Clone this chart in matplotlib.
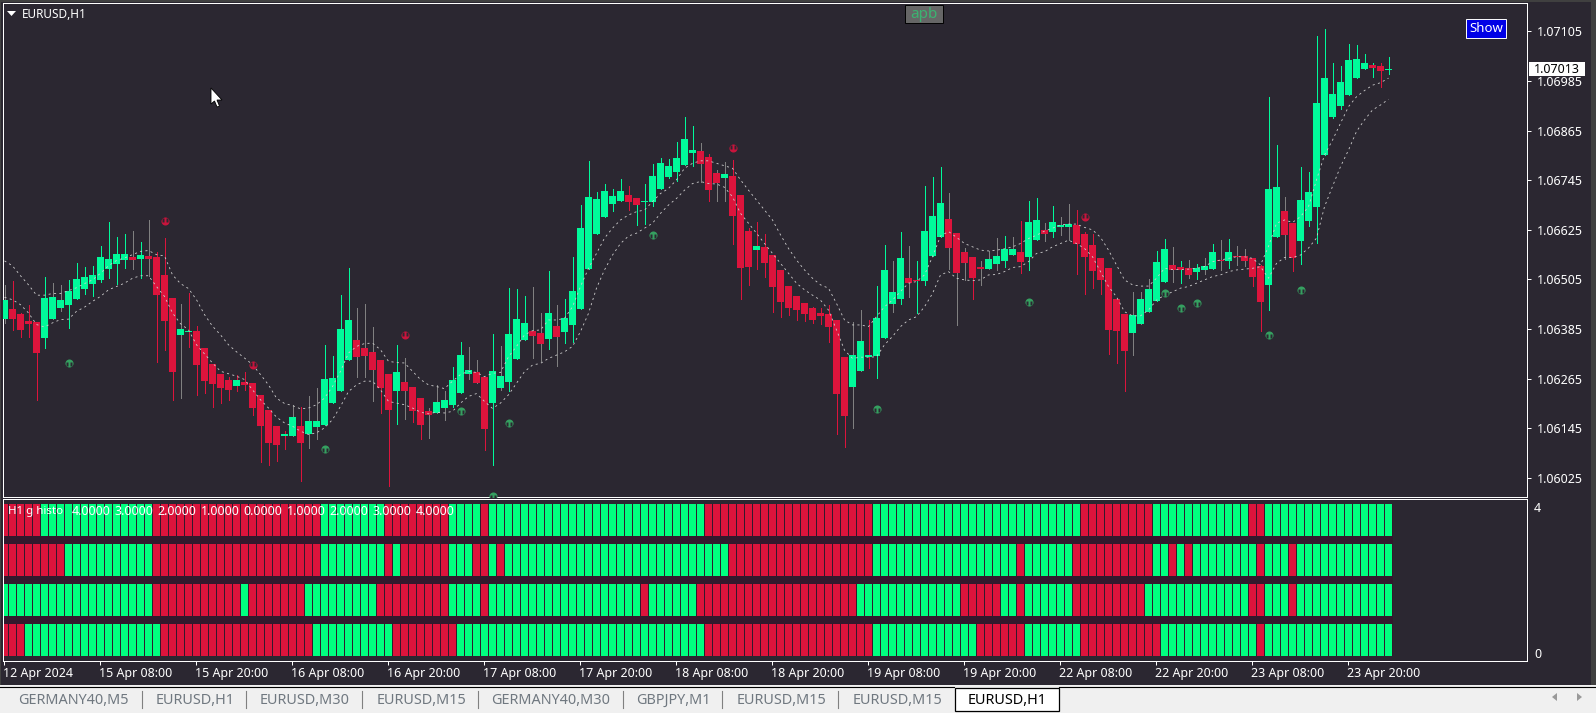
import matplotlib
matplotlib.use("Agg")
import matplotlib.pyplot as plt
from matplotlib.patches import Rectangle, Polygon
from matplotlib.path import Path
import numpy as np

W, H = 1596, 713

# prices in points (1e-5)
opens = [106410,106434,106422,106405,106403,106364,106410,106437,106444,106458,
106483,106495,106504,106531,106543,106553,106560,106555,106562,106560,
106516,106461,106371,106379,106381,106340,106301,106277,106263,106248,
106258,106255,106226,106190,106151,106127,106127,106151,106130,106147,
106154,106207,106236,106311,106359,106340,106330,106311,106277,106234,
106258,106246,106219,106188,106183,106195,106202,106231,106277,106282,
106270,106205,106243,106257,106313,106359,106380,106376,106361,106393,
106378,106395,106434,106530,106615,106656,106688,106695,106709,106702,
106693,106692,106724,106753,106765,106782,106811,106816,106801,106762,
106750,106755,106709,106622,106576,106584,106564,106528,106489,106465,
106448,106436,106424,106422,106407,106318,106245,106284,106318,106320,
106364,106446,106458,106509,106504,106501,106562,106608,106651,106617,
106571,106559,106535,106530,106542,106550,106564,106571,106559,106600,
106625,106620,106632,106632,106637,106615,106588,106557,106533,106458,
106421,106376,106397,106426,106453,106499,106540,106535,106533,106523,
106528,106530,106552,106550,106562,106562,106557,106537,106492,106608,
106671,106642,106598,106647,106680,106806,106898,106925,106951,106992,
107014,107024,107021,107011]
closes = [106456,106410,106383,106398,106328,106461,106463,106456,106478,106507,
106512,106516,106560,106555,106567,106567,106553,106565,106555,106468,
106405,106282,106386,106381,106299,106260,106253,106243,106238,106263,
106250,106195,106151,106110,106105,106132,106173,106110,106163,106163,
106265,106267,106386,106408,106318,106321,106287,106243,106190,106282,
106234,106188,106154,106178,106209,106214,106263,106323,106287,106255,
106144,106284,106272,106373,106409,106400,106368,106349,106424,106366,
106412,106477,106629,106704,106700,106719,106707,106719,106692,106685,
106695,106755,106787,106779,106799,106845,106818,106784,106721,106738,
106760,106659,106533,106535,106586,106545,106487,106451,106436,106431,
106422,106407,106417,106390,106228,106175,106322,106356,106322,106412,
106528,106475,106557,106496,106501,106622,106658,106690,106581,106521,
106545,106508,106530,106554,106562,106579,106579,106547,106644,106649,
106615,106644,106637,106639,106591,106559,106525,106504,106383,106380,
106332,106419,106458,106482,106547,106579,106528,106528,106516,106533,
106538,106571,106550,106571,106559,106550,106511,106451,106724,106729,
106613,106557,106697,106717,106932,106992,106954,106983,107036,107038,
107029,107017,107009,107013]
highs = [106492,106502,106425,106444,106403,106511,106497,106492,106504,106545,
106536,106538,106587,106645,106608,106616,106623,106596,106649,106572,
106606,106461,106446,106473,106393,106340,106301,106277,106270,106275,
106282,106255,106226,106190,106151,106139,106202,106197,106224,106243,
106347,106321,106468,106533,106437,106446,106391,106311,106277,106347,
106316,106246,106219,106195,106250,106236,106294,106354,106342,106309,
106270,106374,106344,106484,106482,106465,106487,106424,106526,106443,
106458,106559,106685,106792,106717,106736,106724,106748,106731,106702,
106736,106784,106799,106796,106837,106898,106876,106835,106808,106770,
106789,106794,106709,106629,106644,106615,106564,106528,106489,106465,
106448,106438,106436,106443,106407,106318,106402,106431,106407,106489,
106588,106550,106620,106586,106550,106731,106753,106777,106714,106617,
106581,106559,106550,106574,106605,106610,106608,106646,106695,106702,
106641,106683,106656,106687,106673,106620,106615,106557,106533,106458,
106421,106475,106475,106506,106574,106603,106583,106550,106552,106542,
106557,106591,106600,106603,106586,106579,106557,106540,106946,106830,
106705,106642,106777,106765,107094,107111,107029,107021,107075,107072,
107050,107029,107029,107043]
lows = [106400,106383,106367,106367,106214,106340,106410,106429,106388,106458,
106471,106466,106500,106509,106495,106533,106531,106509,106514,106306,
106335,106214,106219,106342,106226,106231,106197,106205,106214,106234,
106238,106176,106064,106057,106067,106096,106127,106018,106098,106120,
106154,106207,106236,106311,106270,106270,106212,106183,106006,106156,
106168,106161,106120,106122,106183,106166,106197,106231,106265,106255,
106093,106057,106238,106235,106313,106359,106315,106308,106337,106296,
106351,106354,106434,106530,106615,106656,106671,106695,106673,106637,
106639,106683,106724,106750,106743,106782,106779,106741,106695,106695,
106695,106591,106458,106492,106530,106511,106426,106414,106419,106407,
106405,106400,106397,106354,106131,106100,106146,106284,106291,106267,
106364,106426,106446,106463,106424,106492,106562,106608,106530,106395,
106504,106458,106492,106530,106528,106535,106564,106521,106528,106600,
106598,106608,106612,106600,106518,106470,106484,106470,106325,106303,
106235,106322,106397,106426,106453,106499,106499,106496,106508,106506,
106518,106530,106528,106533,106540,106538,106489,106380,106431,106608,
106555,106526,106543,106635,106593,106806,106896,106917,106951,106992,
107014,106995,106971,107002]

# the two dotted averages
upper_ma = [106550,106538,106514,106492,106467,106467,106471,106471,106478,106485,
106495,106504,106520,106538,106551,106557,106565,106573,106575,106565,
106562,106516,106495,106483,106456,106420,106392,106371,106347,106330,
106315,106299,106275,106250,106218,106205,106200,106192,106194,106202,
106218,106246,106283,106327,106343,106350,106351,106335,106307,106304,
106303,106283,106263,106250,106246,106241,106259,106275,106283,106280,
106270,106278,106280,106318,106343,106371,106381,106383,106407,106407,
106411,106439,106488,106532,106568,106605,106629,106649,106661,106669,
106673,106693,106713,106725,106746,106774,106786,106792,106792,106786,
106780,106774,106746,106721,106697,106673,106649,106613,106580,106552,
106528,106508,106492,106484,106447,106407,106395,106395,106391,106415,
106439,106455,106476,106496,106500,106516,106560,106610,106621,106607,
106592,106584,106576,106574,106576,106579,106584,106592,106604,106612,
106622,106629,106637,106639,106639,106631,106625,106607,106576,106540,
106504,106492,106489,106489,106508,106532,106529,106529,106530,106532,
106536,106548,106552,106556,106560,106560,106556,106540,106585,106641,
106649,106643,106657,106681,106746,106806,106842,106883,106923,106947,
106962,106975,106981,106992]
lower_ma = [106462,106456,106444,106424,106396,106390,106400,106408,106409,106428,
106438,106452,106464,106480,106488,106496,106508,106514,106514,106488,
106464,106424,106398,106383,106347,106325,106303,106283,106277,106271,
106263,106238,106214,106194,106172,106158,106150,106138,106130,106134,
106146,106166,106198,106234,106250,106259,106259,106238,106210,106206,
106202,106194,106184,106180,106184,106182,106186,106206,106222,106229,
106210,106193,106206,106226,106254,106282,106298,106302,106314,106322,
106330,106343,106379,106423,106484,106528,106564,106592,106610,106617,
106629,106641,106665,106685,106701,106721,106737,106742,106737,106736,
106728,106705,106665,106641,106617,106592,106568,106544,106520,106496,
106480,106467,106455,106431,106383,106334,106314,106317,106317,106318,
106347,106367,106391,106407,106415,106439,106471,106516,106524,106508,
106504,106502,106504,106516,106517,106524,106534,106536,106548,106568,
106572,106584,106592,106600,106592,106580,106560,106524,106488,106463,
106427,106417,106417,106431,106455,106467,106475,106484,106488,106496,
106504,106512,106516,106524,106528,106530,106532,106536,106508,106544,
106558,106558,106564,106581,106605,106681,106730,106778,106818,106863,
106891,106915,106927,106941]

# signal markers: bar index and price
buy_bars = [8, 40, 57, 61, 63, 81, 109, 128, 145, 147, 149, 158, 162]
buy_prices = [106302, 106094, 106188, 105982, 106159, 106613, 106192, 106451, 106473, 106437, 106449, 106371, 106480]
sell_bars = [20, 31, 50, 91, 135]
sell_prices = [106647, 106297, 106370, 106824, 106657]

# wicks that do not take the body colour
grey_wicks = [0,6,7,16,18,22,36,38,39,44,45,46,50,53,54,55,58,59,62,66,67,69,87,89,90,
              106,107,111,113,118,119,120,122,123,124,126,130,132,133,141,142,143,
              146,148,150,152,154,155,160]
red_wicks = [23, 29, 35, 94, 108]
green_wicks = [79, 114, 147, 171]

# histogram rows, top to bottom: bar ranges that are green, the rest is red
row1_green = [(5,18),(40,47),(56,59),(61,87),(109,134),(144,155),(158,173)]
row2_green = [(8,18),(40,47),(49,49),(56,58),(61,61),(63,90),(109,126),(128,133),
              (144,145),(147,147),(149,156),(158,160),(162,173)]
row3_green = [(0,18),(30,30),(38,46),(56,59),(61,79),(81,86),(107,119),(125,126),
              (128,133),(143,155),(158,160),(162,173)]
row4_green = [(3,19),(39,48),(57,87),(109,121),(128,134),(145,156),(158,173)]

price_ticks = [1.07105, 1.06985, 1.06865, 1.06745, 1.06625, 1.06505, 1.06385, 1.06265, 1.06145, 1.06025]
last_price = 1.07013
time_labels = ["12 Apr 2024", "15 Apr 08:00", "15 Apr 20:00", "16 Apr 08:00", "16 Apr 20:00",
               "17 Apr 08:00", "17 Apr 20:00", "18 Apr 08:00", "18 Apr 20:00", "19 Apr 08:00",
               "19 Apr 20:00", "22 Apr 08:00", "22 Apr 20:00", "23 Apr 08:00", "23 Apr 20:00"]
histo_levels = ["4.0000", "3.0000", "2.0000", "1.0000", "0.0000", "1.0000", "2.0000", "3.0000", "4.0000"]
tabs = [("GERMANY40,M5", 18), ("EURUSD,H1", 155.5), ("EURUSD,M30", 260), ("EURUSD,M15", 377),
        ("GERMANY40,M30", 491), ("GBPJPY,M1", 636), ("EURUSD,M15", 737), ("EURUSD,M15", 853)]
tab_seps = [142, 246, 362, 478, 623, 722, 838]

BG = "#2b2731"
GREEN = "#00fa9a"
RED = "#dc143c"
GREY = "#808080"
HIST_GREEN = "#00ff7f"
BAND = "#33192d"
BUY = "#35a060"
SELL = "#c8143c"
plt.rcParams["font.family"] = ["Noto Sans", "DejaVu Sans"]
TXT = 9

opens = np.array(opens) / 1e5
closes = np.array(closes) / 1e5
highs = np.array(highs) / 1e5
lows = np.array(lows) / 1e5
bars = np.arange(len(opens))

fig = plt.figure(figsize=(W / 100, H / 100), dpi=100, facecolor="#f0f0f0")

# window chrome, in pixels
bg = fig.add_axes([0, 0, 1, 1], zorder=-1)
bg.set_xlim(0, W); bg.set_ylim(H, 0); bg.axis("off")
bg.add_patch(Rectangle((0, 0), W, 685, color="#404040", lw=0))
bg.add_patch(Rectangle((1, 2), 1590, 683, color=BG, lw=0))


def place(x0, y0, x1, y1, **kw):
    return fig.add_axes([x0 / W, 1 - y1 / H, (x1 - x0) / W, (y1 - y0) / H], **kw)


def style(ax):
    ax.set_facecolor(BG)
    for s in ax.spines.values():
        s.set_color("white")
        s.set_linewidth(0.72)


# main chart
ax = place(2.5, 2.5, 1526.5, 496.5)
style(ax)
ax.set_xlim(-0.25, 190.25)
ax.set_ylim(1.05980, 1.07175)

wick_colours = [GREEN if c >= o else RED for o, c in zip(opens, closes)]
for i in grey_wicks:
    wick_colours[i] = GREY
for i in red_wicks:
    wick_colours[i] = RED
for i in green_wicks:
    wick_colours[i] = GREEN
ax.vlines(bars, lows, highs, colors=wick_colours, lw=0.72, antialiased=False, zorder=2)

up = closes >= opens
tops = np.maximum(opens, closes)
bots = np.minimum(opens, closes)
ax.bar(bars[up], (tops - bots)[up], bottom=bots[up], width=0.875, color=GREEN, lw=0,
       antialiased=False, zorder=3)
ax.bar(bars[~up], (tops - bots)[~up], bottom=bots[~up], width=0.875, color=RED, lw=0,
       antialiased=False, zorder=3)

ax.plot(bars, np.array(upper_ma) / 1e5, color="#cfcfcf", lw=0.6, ls=(0, (2.5, 4)), zorder=4)
ax.plot(bars, np.array(lower_ma) / 1e5, color="#cfcfcf", lw=0.6, ls=(0, (2.5, 4)), zorder=4)

# arrow signs: a filled disc with two dark slots beside the stem
slots_up = Path([(-2.6, -2.6), (-0.6, -2.6), (-0.6, 0.6), (-2.6, 0.6), (-2.6, -2.6),
                 (0.6, -2.6), (2.6, -2.6), (2.6, 0.6), (0.6, 0.6), (0.6, -2.6)],
                [1, 2, 2, 2, 79, 1, 2, 2, 2, 79])
slots_down = Path(slots_up.vertices * [1, -1], slots_up.codes)
buy_y = np.array(buy_prices) / 1e5
sell_y = np.array(sell_prices) / 1e5
ax.plot(buy_bars, buy_y, ls="", marker="o", ms=5.8, mfc=BUY, mec="none", zorder=5)
ax.plot(buy_bars, buy_y, ls="", marker=slots_up, ms=3.8, mfc=BG, mec="none", zorder=6)
ax.plot(sell_bars, sell_y, ls="", marker="o", ms=5.8, mfc=SELL, mec="none", zorder=5)
ax.plot(sell_bars, sell_y, ls="", marker=slots_down, ms=3.8, mfc=BG, mec="none", zorder=6)

ax.set_xticks([])
ax.yaxis.tick_right()
ax.set_yticks(price_ticks)
ax.set_yticklabels([f"{p:.5f}" for p in price_ticks], color="white", fontsize=TXT)
ax.tick_params(axis="y", length=3, width=0.72, color="white", pad=4.2)

# histogram window
sub = place(2.5, 498.5, 1526.5, 660.5)
style(sub)
sub.set_xlim(-0.25, 190.25)
sub.set_ylim(-0.1125, 3.9375)
sub.bar(bars, 3.8, width=1.0, color=BAND, lw=0, antialiased=False, zorder=1)
rows = [row4_green, row3_green, row2_green, row1_green]
for level, runs in enumerate(rows):
    colours = [RED] * len(bars)
    for a, b in runs:
        for i in range(a, b + 1):
            colours[i] = HIST_GREEN
    sub.bar(bars, 0.8, bottom=level, width=0.875, color=colours, lw=0, antialiased=False, zorder=2)
sub.set_yticks([])
tick_bars = bars[::12][:len(time_labels)]
sub.set_xticks(tick_bars - 0.1)
sub.set_xticklabels([])
sub.tick_params(axis="x", length=3, width=0.72, color="white")

# everything written on top, in pixels
fg = fig.add_axes([0, 0, 1, 1], zorder=20)
fg.set_xlim(0, W); fg.set_ylim(H, 0); fg.axis("off"); fg.patch.set_alpha(0)

fg.add_patch(Rectangle((1529, 62), 56, 14, fc="white", ec="none"))
fg.text(1534, 69.3, f"{last_price:.5f}", color="black", fontsize=TXT, va="center")

for k, lab in enumerate(time_labels):
    fg.text(2.7 + 96 * k, 673.5, lab, color="white", fontsize=TXT, va="center", ha="left")

fg.text(1534, 509, "4", color="white", fontsize=TXT, va="center")
fg.text(1534, 654, "0", color="white", fontsize=TXT, va="center")

fg.text(8, 511.5, "H1 g histo", color="white", fontsize=8.3, va="center")
for k, lab in enumerate(histo_levels):
    fg.text(71.8 + 43 * k, 511.5, lab, color="white", fontsize=TXT, va="center")

fg.add_patch(Polygon([(7, 11), (16, 11), (11.5, 16)], color="white", lw=0))
fg.text(22, 14.2, "EURUSD,H1", color="white", fontsize=8.5, va="center")

# mouse pointer
fg.add_patch(Polygon([(211, 88), (211, 104), (214.5, 101), (217, 107), (219.5, 106), (217, 100), (222, 100)],
                     fc="white", ec="black", lw=0.6))

fg.add_patch(Rectangle((905, 5), 38, 18, fc="#666666", ec="black", lw=0.7))
fg.text(924, 14, "apb", color="#3cb371", fontsize=11, va="center", ha="center")
fg.add_patch(Rectangle((1466, 19), 40, 19, fc="#0000e6", ec="white", lw=0.7))
fg.text(1486, 29, "Show", color="white", fontsize=9.5, va="center", ha="center")

# tab strip
for lab, x in tabs:
    fg.text(x, 700.5, lab, color="#707880", fontsize=10.4, va="center")
for x in tab_seps:
    fg.plot([x, x], [691, 708], color="#808080", lw=0.8)
fg.add_patch(Rectangle((954.5, 687.5), 104, 23, fc="white", ec="black", lw=0.9))
fg.text(968, 700.5, "EURUSD,H1", color="black", fontsize=10.4, va="center")
fg.plot([0, 954], [687, 687], color="black", lw=0.8)
fg.plot([1059, 1596], [687, 687], color="black", lw=0.8)
fg.add_patch(Polygon([(1557, 693), (1557, 701), (1552, 697)], color="#999999", lw=0))
fg.add_patch(Polygon([(1577, 693), (1577, 701), (1582, 697)], color="#999999", lw=0))

fig.savefig("out.png", dpi=100, facecolor=fig.get_facecolor())
